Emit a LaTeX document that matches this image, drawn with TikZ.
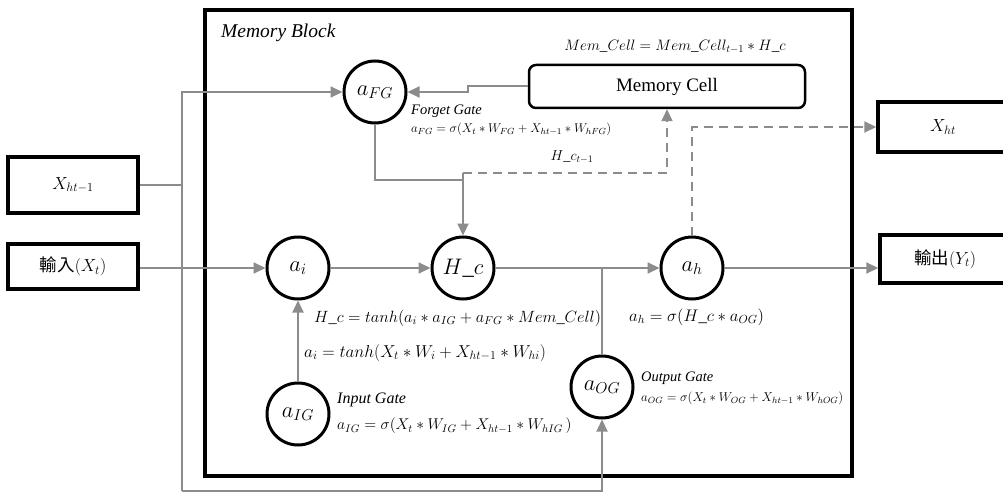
\RequirePackage{fix-cm}
\documentclass[tikz,border=0pt]{standalone}
\usepackage{fontspec}
\setmainfont{Liberation Serif}
\newfontfamily\cjkfont{Noto Sans CJK TC}
\usetikzlibrary{arrows.meta}
\definecolor{wiregray}{RGB}{140,140,140}
\newcommand\fsz[1]{\fontsize{#1}{#1}\selectfont}
\begin{document}
\begin{tikzpicture}[x=1pt, y=-1pt,
  gate/.style={circle, draw=black, line width=3pt, minimum size=62pt, inner sep=0pt, font=\fsz{22.5}},
  iobox/.style={rectangle, draw=black, line width=3.5pt, inner sep=0pt, font=\fsz{17.5}},
  wire/.style={draw=wiregray, line width=2pt},
  flow/.style={wire, -{Triangle[length=12pt,width=11pt]}},
  dashflow/.style={flow, dash pattern=on 9pt off 6pt},
  eqn/.style={inner sep=0pt, anchor=west, font=\fsz{16.8}},
  smalleqn/.style={inner sep=0pt, anchor=west, font=\fsz{12.7}},
  gatename/.style={inner sep=0pt, anchor=west, font=\fsz{14.5}\itshape}]
\fill[white] (0,0) rectangle (1003,492);
\useasboundingbox (0,0) rectangle (1003,492);

% memory block frame
\node[draw=black, line width=3.5pt, minimum width=647pt, minimum height=466pt, inner sep=0pt] (block) at (528.5,243) {};
\node[anchor=west, inner sep=0pt, font=\fsz{19.5}\itshape] (blocktitle) at (221,33) {Memory Block};

% input / output boxes
\node[iobox, minimum width=130pt, minimum height=56pt] (xh1) at (73,185) {$X_{ht-1}$};
\node[iobox, minimum width=130pt, minimum height=45pt] (inp) at (73,266.5) {\cjkfont 輸入$(X_t)$};
\node[iobox, minimum width=140pt, minimum height=50pt, text width=124pt, align=left] (xht) at (948,127) {\hspace{44pt}$X_{ht}$};
\node[iobox, minimum width=140pt, minimum height=48pt, text width=124pt, align=left] (out) at (950,259) {\hspace{26pt}\cjkfont 輸出$(Y_t)$};

% memory cell
\node[draw=black, line width=2.5pt, rounded corners=7pt, minimum width=276pt, minimum height=43pt, inner sep=0pt, font=\fsz{19}] (mc) at (667,86.5) {Memory Cell};
\node[font=\fsz{15.1}, inner sep=0pt] (mceq) at (675,47) {$Mem\_Cell = Mem\_Cell_{t-1} \ast H\_c$};

% gates
\node[gate] (aFG) at (375,92) {$a_{FG}$};
\node[gate] (ai) at (298,268) {$a_i$};
\node[gate] (Hc) at (463,268) {$H\_c$};
\node[gate] (ah) at (692,268) {$a_h$};
\node[gate] (aOG) at (602,387) {$a_{OG}$};
\node[gate] (aIG) at (298,414) {$a_{IG}$};

% junction points
\coordinate (tl) at (182,92);
\coordinate (bl) at (182,491);
\coordinate (jog) at (468,92);
\coordinate (hj) at (463,173);
\coordinate (fj) at (463,180);

% connectors
\draw[wire] (xh1.east) -- (xh1.east -| tl);
\draw[flow] (bl) -- (tl) -- (aFG.west);
\draw[flow] (bl) -| (aOG.south);
\draw[flow] (inp.east |- ai) -- (ai.west);
\draw[flow] (ai.east) -- (Hc.west);
\draw[flow] (aIG.north) -- (ai.south);
\draw[flow] (Hc.east) -- (ah.west);
\draw[wire] (aOG.north) -- (aOG.north |- Hc.east);
\draw[flow] (ah.east) -- (ah.east -| out.west);
\draw[dashflow] (ah.north) |- (xht.west);
\draw[flow] (mc.west) -| (jog) -- (aFG.east);
\draw[wire] (aFG.south) |- (fj);
\draw[flow] (hj) -- (Hc.north);
\draw[dashflow] (hj) -| (mc.south);

% gate descriptions and equations
\node[gatename] (fgname) at (411,111) {Forget Gate};
\node[smalleqn] (fgeq) at (411,129) {$a_{FG} = \sigma(X_t \ast W_{FG} + X_{ht-1} \ast W_{hFG})$};
\node[font=\fsz{14.4}, inner sep=0pt] (hcprev) at (572,157) {$H\_c_{t-1}$};
\node[eqn, font=\fsz{16.3}] (hceq) at (314,318) {$H\_c = tanh(a_i \ast a_{IG} + a_{FG} \ast Mem\_Cell)$};
\node[eqn, font=\fsz{17.2}] (aieq) at (304,353) {$a_i = tanh(X_t \ast W_i + X_{ht-1} \ast W_{hi})$};
\node[gatename, font=\fsz{16}\itshape] (igname) at (337,400) {Input Gate};
\node[smalleqn, font=\fsz{15.6}] (igeq) at (337,426) {$a_{IG} = \sigma(X_t \ast W_{IG} + X_{ht-1} \ast W_{hIG}\,)$};
\node[eqn] (aheq) at (629,317) {$a_h = \sigma(H\_c \ast a_{OG})$};
\node[gatename] (ogname) at (641,378) {Output Gate};
\node[smalleqn, font=\fsz{12.8}] (ogeq) at (641,398) {$a_{OG} = \sigma(X_t \ast W_{OG} + X_{ht-1} \ast W_{hOG})$};
\end{tikzpicture}
\end{document}
